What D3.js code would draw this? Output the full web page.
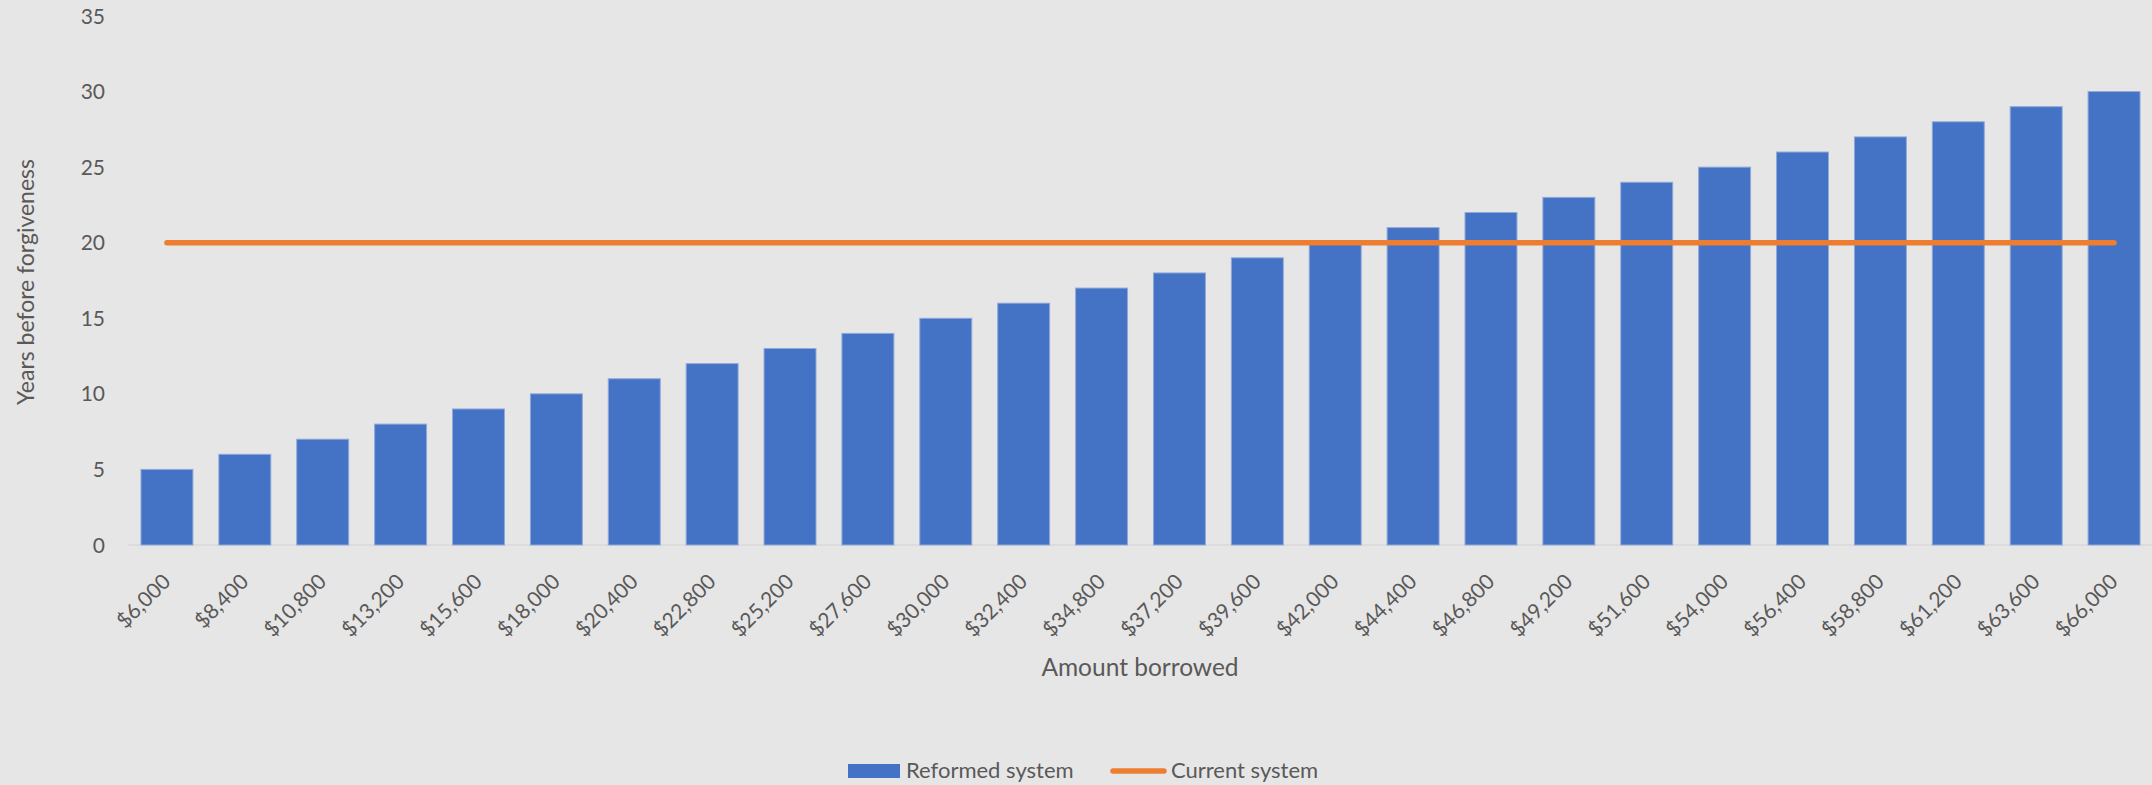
<!DOCTYPE html>
<html>
<head>
<meta charset="utf-8">
<script src="https://cdn.jsdelivr.net/npm/d3@7"></script>
<style>
  body { margin: 0; background: #e7e6e6; }
  svg { display: block; }
  text { font-family: Lato, "Open Sans", sans-serif; fill: #595959; }
</style>
</head>
<body>
<svg id="chart"></svg>
<script>
let width = 2152;
let height = 785;

// data
let amounts = ["$6,000", "$8,400", "$10,800", "$13,200", "$15,600", "$18,000", "$20,400",
    "$22,800", "$25,200", "$27,600", "$30,000", "$32,400", "$34,800", "$37,200", "$39,600",
    "$42,000", "$44,400", "$46,800", "$49,200", "$51,600", "$54,000", "$56,400", "$58,800",
    "$61,200", "$63,600", "$66,000"];
let reformed = [5, 6, 7, 8, 9, 10, 11, 12, 13, 14, 15, 16, 17, 18, 19, 20, 21, 22, 23, 24,
    25, 26, 27, 28, 29, 30];
let current = [20, 20, 20, 20, 20, 20, 20, 20, 20, 20, 20, 20, 20, 20, 20, 20, 20, 20, 20,
    20, 20, 20, 20, 20, 20, 20];
let yTicks = [0, 5, 10, 15, 20, 25, 30, 35];

let svg = d3.select("#chart")
    .attr("width", width)
    .attr("height", height);

let plotLeft = 128, plotRight = 2153, plotTop = 16, plotBottom = 545;

let x = d3.scaleBand()
    .domain(amounts)
    .range([plotLeft, plotRight])
    .paddingInner(0.333)
    .paddingOuter(0.1665);

let y = d3.scaleLinear()
    .domain([0, 35])
    .range([plotBottom, plotTop]);

// baseline
svg.append("line")
    .attr("x1", plotLeft).attr("x2", plotRight)
    .attr("y1", y(0)).attr("y2", y(0))
    .attr("stroke", "#d9d9d9")
    .attr("stroke-width", 1.5);

// y tick labels
svg.append("g")
    .selectAll("text")
    .data(yTicks)
    .join("text")
    .attr("x", 105)
    .attr("y", d => y(d))
    .attr("dy", "0.36em")
    .attr("text-anchor", "end")
    .style("font-size", "21px")
    .text(d => d);

// bars
svg.append("g")
    .selectAll("rect")
    .data(amounts)
    .join("rect")
    .attr("x", d => x(d))
    .attr("y", (d, i) => y(reformed[i]))
    .attr("width", x.bandwidth())
    .attr("height", (d, i) => y(0) - y(reformed[i]))
    .attr("fill", "#4472c4")
    .attr("stroke", "#8fa9da")
    .attr("stroke-width", 1);

// current system line
let line = d3.line()
    .x((d, i) => x(amounts[i]) + x.bandwidth() / 2)
    .y(d => y(d));

svg.append("path")
    .datum(current)
    .attr("d", line)
    .attr("fill", "none")
    .attr("stroke", "#ed7d31")
    .attr("stroke-width", 5.5)
    .attr("stroke-linecap", "round");

// x tick labels
svg.append("g")
    .selectAll("text")
    .data(amounts)
    .join("text")
    .attr("transform", d => "translate(" + (x(d) + x.bandwidth() / 2 + 5) + "," + 583 + ") rotate(-45)")
    .attr("text-anchor", "end")
    .style("font-size", "21px")
    .text(d => d);

// axis titles
svg.append("text")
    .attr("transform", "translate(26, 282) rotate(-90)")
    .attr("text-anchor", "middle")
    .attr("dy", "0.35em")
    .style("font-size", "23px")
    .text("Years before forgiveness");

svg.append("text")
    .attr("x", 1140)
    .attr("y", 676)
    .attr("text-anchor", "middle")
    .style("font-size", "24.5px")
    .text("Amount borrowed");

// legend
let legend = svg.append("g");
legend.append("rect")
    .attr("x", 848).attr("y", 764)
    .attr("width", 52).attr("height", 14)
    .attr("fill", "#4472c4");
legend.append("text")
    .attr("x", 906).attr("y", 778)
    .style("font-size", "22px")
    .text("Reformed system");
legend.append("line")
    .attr("x1", 1113).attr("x2", 1164)
    .attr("y1", 771).attr("y2", 771)
    .attr("stroke", "#ed7d31")
    .attr("stroke-width", 5.5)
    .attr("stroke-linecap", "round");
legend.append("text")
    .attr("x", 1171).attr("y", 778)
    .style("font-size", "22px")
    .text("Current system");
</script>
</body>
</html>
